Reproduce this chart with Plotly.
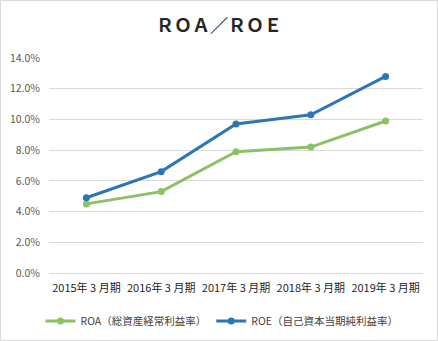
import plotly.graph_objects as go

categories = ["2015年 3 月期", "2016年 3 月期", "2017年 3 月期", "2018年 3 月期", "2019年 3 月期"]
roa = [0.045, 0.053, 0.079, 0.082, 0.099]
roe = [0.049, 0.066, 0.097, 0.103, 0.128]
roa_name = "ROA（総資産経常利益率）"
roe_name = "ROE（自己資本当期純利益率）"
title_text = "<b>ＲＯＡ／ＲＯＥ</b>"

W, H = 438, 341
L, R, T, B = 49, 15, 58, 68
pw, ph = W - L - R, H - T - B

font = "Noto Sans CJK JP, Noto Sans, sans-serif"

fig = go.Figure()
fig.add_trace(go.Scatter(x=categories, y=roa, name=roa_name, mode="lines+markers",
                         line=dict(color="#8CC168", width=3), marker=dict(size=7, color="#8CC168")))
fig.add_trace(go.Scatter(x=categories, y=roe, name=roe_name, mode="lines+markers",
                         line=dict(color="#2E75B6", width=3), marker=dict(size=7, color="#2E75B6")))

fig.update_layout(
    width=W, height=H,
    margin=dict(l=L, r=R, t=T, b=B, autoexpand=False),
    paper_bgcolor="white", plot_bgcolor="white",
    font=dict(family=font, size=10, color="#404040"),
    title=dict(text=title_text, x=0.5, xanchor="center", y=1 - 26 / H, yanchor="middle",
               font=dict(family=font, size=18, color="#262626")),
    showlegend=True,
    legend=dict(orientation="h", x=(222 - L) / pw, xanchor="center", yref="container",
                y=1 - 321 / H, yanchor="middle",
                font=dict(size=10.5, color="#404040"), traceorder="normal"),
    xaxis=dict(type="category", range=[-0.5, 4.5], showgrid=False, showline=True,
               linecolor="#D9D9D9", linewidth=1, ticks="", tickfont=dict(size=11, color="#262626"),
               fixedrange=True, automargin=False, ticklabelstandoff=5),
    yaxis=dict(range=[0, 0.14], dtick=0.02, tickformat=".1%", showgrid=True,
               gridcolor="#D9D9D9", gridwidth=1, zeroline=False, showline=False,
               ticks="", tickfont=dict(size=10.5, color="#595959"), fixedrange=True,
               automargin=False, ticklabelstandoff=8),
    shapes=[dict(type="rect", xref="paper", yref="paper",
                 x0=-(L - 0.5) / pw, x1=(W - L - 0.5) / pw,
                 y0=-(B - 0.5) / ph, y1=(H - B - 0.5) / ph,
                 line=dict(color="#D9D9D9", width=1), fillcolor="rgba(0,0,0,0)", layer="below")],
)

fig.write_html("out.html")
